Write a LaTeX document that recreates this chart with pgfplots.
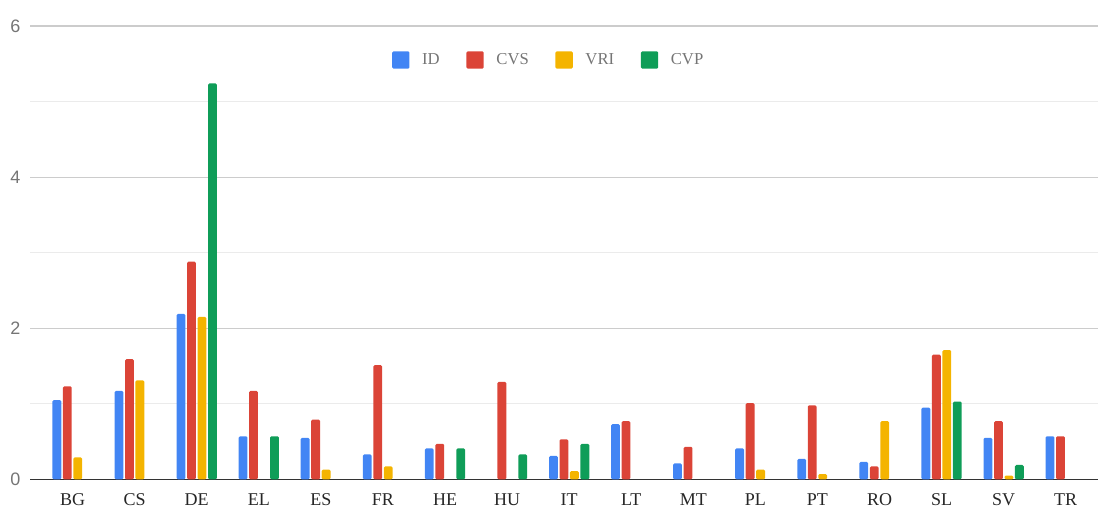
\documentclass[border=0pt]{standalone}
\usepackage{fontspec}
\setmainfont{Liberation Serif}
\newfontfamily\sansf{Liberation Sans}
\usepackage{pgfplots}
\usepackage{pgfplotstable}
\pgfplotsset{compat=1.18}
\definecolor{cID}{HTML}{4285F4}
\definecolor{cCVS}{HTML}{DB4437}
\definecolor{cVRI}{HTML}{F4B400}
\definecolor{cCVP}{HTML}{0F9D58}
\definecolor{ticktext}{HTML}{757575}
\pgfplotstableread{
x id cvs vri cvp
0 1.05 1.23 0.29 nan
1 1.17 1.59 1.31 nan
2 2.19 2.88 2.15 5.24
3 0.57 1.17 nan 0.57
4 0.55 0.79 0.13 nan
5 0.33 1.51 0.17 nan
6 0.41 0.47 nan 0.41
7 nan 1.29 nan 0.33
8 0.31 0.53 0.11 0.47
9 0.73 0.77 nan nan
10 0.21 0.43 nan nan
11 0.41 1.01 0.13 nan
12 0.27 0.98 0.07 nan
13 0.23 0.17 0.77 nan
14 0.95 1.65 1.71 1.03
15 0.55 0.77 0.05 0.19
16 0.57 0.57 nan nan
}\data
\begin{document}
\begin{tikzpicture}
\begin{axis}[
  at={(0,0)}, anchor=south west,
  scale only axis,
  width=801pt, height=340pt,
  xmin=-0.686, xmax=16.52,
  ymin=0, ymax=6,
  ybar, bar width=0.142,
  axis line style={draw=none},
  xtick={0,...,16},
  xticklabels={BG,CS,DE,EL,ES,FR,HE,HU,IT,LT,MT,PL,PT,RO,SL,SV,TR},
  major tick length=0pt, minor tick length=0pt,
  xticklabel style={anchor=base, yshift=-19.5pt, font=\fontsize{13.5}{15}\selectfont, text=black!85},
  ytick={0,2,4,6}, minor ytick={1,3,5},
  ymajorgrids, yminorgrids,
  major grid style={draw=black!20, line width=0.9pt},
  minor grid style={draw=black!8, line width=0.9pt},
  yticklabel style={anchor=east, inner sep=0pt, xshift=-7pt, font=\sansf\fontsize{13.5}{15}\selectfont, text=ticktext},
  /pgf/number format/assume math mode=true,
  extra y ticks={0}, extra y tick labels={},
  extra y tick style={grid=major, major grid style={draw=black!80, line width=1pt}},
  unbounded coords=discard,
  legend style={at={(0.486,0.925)}, anchor=center, draw=none, fill=none,
    legend columns=4, font=\fontsize{12.5}{14}\selectfont, text=ticktext,
    /tikz/every odd column/.append style={column sep=7.5pt},
    /tikz/every even column/.append style={column sep=18pt}},
  legend image code/.code={\fill[#1] (0pt,-6.5pt) rectangle (13pt,6.5pt);},
  clip=false,
]
\addplot[fill=cID, draw=none, bar shift=-0.2535, rounded corners=1pt] table[x=x, y=id] {\data};
\addplot[fill=cCVS, draw=none, bar shift=-0.0845, rounded corners=1pt] table[x=x, y=cvs] {\data};
\addplot[fill=cVRI, draw=none, bar shift=0.0845, rounded corners=1pt] table[x=x, y=vri] {\data};
\addplot[fill=cCVP, draw=none, bar shift=0.2535, rounded corners=1pt] table[x=x, y=cvp] {\data};
\legend{ID,CVS,VRI,CVP}
\end{axis}
\pgfresetboundingbox
\useasboundingbox (-22.5pt,-20.8pt) rectangle (801pt,359.5pt);
\end{tikzpicture}
\end{document}
